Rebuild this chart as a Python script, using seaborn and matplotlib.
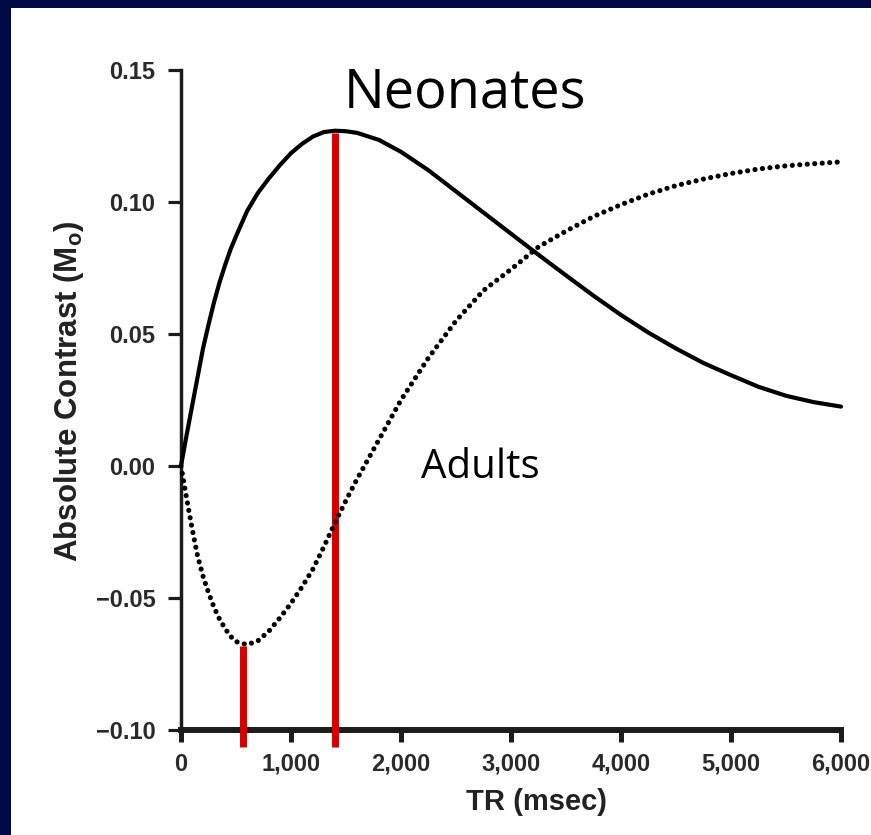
import matplotlib
matplotlib.use("Agg")
import matplotlib.pyplot as plt
import seaborn as sns
import pandas as pd

# ---------------- data ----------------
tr_ms = [0, 50, 100, 150, 200, 250, 300, 350, 400, 450, 500, 600, 700, 800,
         900, 1000, 1100, 1200, 1300, 1400, 1500, 1600, 1800, 2000, 2250,
         2500, 2750, 3000, 3250, 3500, 3750, 4000, 4250, 4500, 4750, 5000,
         5250, 5500, 5750, 6000]
neonates = [0.0, 0.0115, 0.0225, 0.0335, 0.0445, 0.0535, 0.062, 0.0695,
            0.076, 0.082, 0.087, 0.0965, 0.1035, 0.109, 0.114, 0.1185,
            0.122, 0.1248, 0.1265, 0.127, 0.1268, 0.1262, 0.1235, 0.119,
            0.112, 0.104, 0.096, 0.088, 0.080, 0.0722, 0.0645, 0.0572,
            0.0505, 0.0445, 0.039, 0.0344, 0.030, 0.0266, 0.0242, 0.0225]
adults = [0.0, -0.012, -0.0235, -0.034, -0.0417, -0.048, -0.0535, -0.058,
          -0.0615, -0.0645, -0.0665, -0.0677, -0.0662, -0.0625, -0.0575,
          -0.052, -0.0458, -0.039, -0.0305, -0.0215, -0.013, -0.005, 0.010,
          0.025, 0.041, 0.055, 0.0665, 0.0745, 0.083, 0.089, 0.0945, 0.099,
          0.103, 0.1062, 0.1087, 0.1108, 0.1125, 0.1137, 0.1145, 0.1152]

marker_tr = [564, 1400]
marker_top = [-0.068, 0.126]
marker_base = -0.1065

x_ticks = [0, 1000, 2000, 3000, 4000, 5000, 6000]
x_tick_labels = ["0", "1,000", "2,000", "3,000", "4,000", "5,000", "6,000"]
y_ticks = [-0.10, -0.05, 0.00, 0.05, 0.10, 0.15]
y_tick_labels = ["\u22120.10", "\u22120.05", "0.00", "0.05", "0.10", "0.15"]

df = pd.DataFrame({"TR": tr_ms, "Neonates": neonates, "Adults": adults})

# ---------------- style ----------------
sns.set_style("ticks")
plt.rcParams["font.family"] = ["Liberation Sans", "DejaVu Sans"]
plt.rcParams["mathtext.fontset"] = "custom"
plt.rcParams["mathtext.rm"] = "Liberation Sans:bold"
plt.rcParams["mathtext.bf"] = "Liberation Sans:bold"

W, H, DPI = 871, 835, 100
fig = plt.figure(figsize=(W / DPI, H / DPI), dpi=DPI, facecolor="#020a45")
bg = fig.add_axes([11 / W, 0, 1 - 11 / W, 1 - 8 / H], zorder=-5)
bg.set_facecolor("white")
bg.set_xticks([])
bg.set_yticks([])
for s in bg.spines.values():
    s.set_visible(False)

ax_l, ax_r, ax_t, ax_b = 181, 841, 70, 730
ax = fig.add_axes([ax_l / W, 1 - ax_b / H, (ax_r - ax_l) / W, (ax_b - ax_t) / H])
ax.set_facecolor("none")

dark = "#1c1c1c"

ax.vlines(marker_tr, marker_base, marker_top, colors="#d40000",
          linewidth=5.0, zorder=3, clip_on=False)

sns.lineplot(data=df, x="TR", y="Neonates", ax=ax, color="black",
             linewidth=3.0, zorder=4, clip_on=False, solid_capstyle="round",
             solid_joinstyle="round")
sns.lineplot(data=df, x="TR", y="Adults", ax=ax, color="black",
             linewidth=3.7, linestyle=(0, (0.01, 1.45)),
             dash_capstyle="round", zorder=4, clip_on=False)

ax.set_xlim(0, 6000)
ax.set_ylim(-0.10, 0.15)
ax.set_xticks(x_ticks)
ax.set_xticklabels(x_tick_labels)
ax.set_yticks(y_ticks)
ax.set_yticklabels(y_tick_labels)

for s in ["top", "right"]:
    ax.spines[s].set_visible(False)
ax.spines["left"].set_linewidth(2.5)
ax.spines["left"].set_color(dark)
ax.spines["bottom"].set_linewidth(4.3)
ax.spines["bottom"].set_color(dark)
ax.spines["bottom"].set_zorder(2)
ax.spines["left"].set_zorder(2)

ax.tick_params(axis="x", direction="out", length=8.5, width=3.6, color=dark,
               pad=8, labelsize=17, labelcolor="#2a2a2a")
ax.tick_params(axis="y", direction="out", length=9.5, width=2.3, color=dark,
               pad=9, labelsize=17, labelcolor="#2a2a2a")
for lab in ax.get_xticklabels() + ax.get_yticklabels():
    lab.set_fontweight("bold")

ax.set_xlabel("TR (msec)", fontsize=21, fontweight="bold", color="#222222")
ax.set_ylabel(r"Absolute Contrast (M$_{\mathregular{o}}$)", fontsize=22.5,
              fontweight="bold", color="#222222")
ax.xaxis.set_label_coords((536 - ax_l) / (ax_r - ax_l), (ax_b - 788) / (ax_b - ax_t))
ax.xaxis.label.set_va("top")
ax.yaxis.set_label_coords((86 - ax_l) / (ax_r - ax_l), 0.513)

ax.text(2582, 0.1414, "Neonates", fontsize=39, family=["Open Sans", "DejaVu Sans"],
        color="black", ha="center", va="center")
ax.text(2718, -0.0005, "Adults", fontsize=29, family=["Open Sans", "DejaVu Sans"],
        color="black", ha="center", va="center")

fig.savefig("out.png", dpi=DPI, facecolor=fig.get_facecolor())
